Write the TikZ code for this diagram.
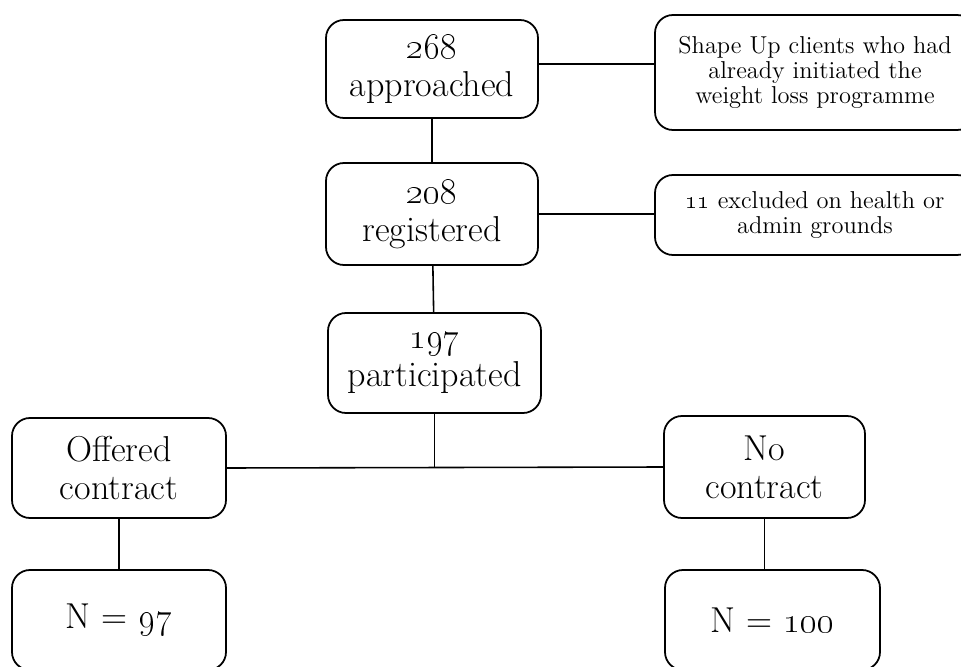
\documentclass[tikz,border=0pt]{standalone}
\usepackage{tikz}
\usetikzlibrary{positioning, calc}

\begin{document}
\begin{tikzpicture}[
    box/.style={draw=black, line width=1pt, rounded corners=0.36cm,
        fill=white, align=center, inner sep=2pt,
        font=\fontsize{20.5}{21.5}\selectfont,
        minimum width=4.24cm, minimum height=2.0cm},
    side/.style={box, font=\fontsize{13.9}{14.2}\selectfont,
        minimum width=6.4cm},
    link/.style={line width=0.9pt, black},
]
\useasboundingbox (0,0) rectangle (19.22,-13.34);

% ============ main column ============
\node[box, minimum height=1.96cm] (appr) at (8.64,-1.38) {\oldstylenums{268}\\approached};
\node[box, minimum height=2.04cm] (reg)  at (8.64,-4.28) {\oldstylenums{208}\\registered};
\node[box, minimum width=4.26cm]  (part) at (8.69,-7.26) {\oldstylenums{197}\\participated};

% ============ exclusions ============
\node[side, minimum height=2.3cm] (excl1) at (16.3,-1.45)
    {Shape Up clients who had\\already initiated the\\weight loss programme};
\node[side, minimum height=1.6cm] (excl2) at (16.3,-4.3)
    {\oldstylenums{11} excluded on health or\\admin grounds};

% ============ arms ============
\node[box, minimum width=4.28cm] (offer) at (2.38,-9.36) {Offered\\contract};
\node[box, minimum width=4.02cm, minimum height=2.04cm] (nocon) at (15.29,-9.34) {No\\contract};
\node[box, minimum width=4.28cm] (n97)  at (2.38,-12.4) {N = \oldstylenums{97}};
\node[box, minimum width=4.3cm]  (n100) at (15.45,-12.4) {N = \oldstylenums{100}};

\coordinate (jn) at (part.south |- offer.east);

\draw[link] (appr) -- (reg);
\draw[link] (reg) -- (part);
\draw[link] ([yshift=0.1cm]appr.east) -- ([yshift=0.1cm]appr.east -| excl1.west);
\draw[link] (reg.east) -- (reg.east -| excl2.west);
\draw[link] (part.south) -- (jn);
\draw[link] (offer.east) -- (nocon.west);
\draw[link] (offer) -- (offer.south |- n97.north);
\draw[link] (nocon.south) -- (nocon.south |- n100.north);

\end{tikzpicture}
\end{document}
